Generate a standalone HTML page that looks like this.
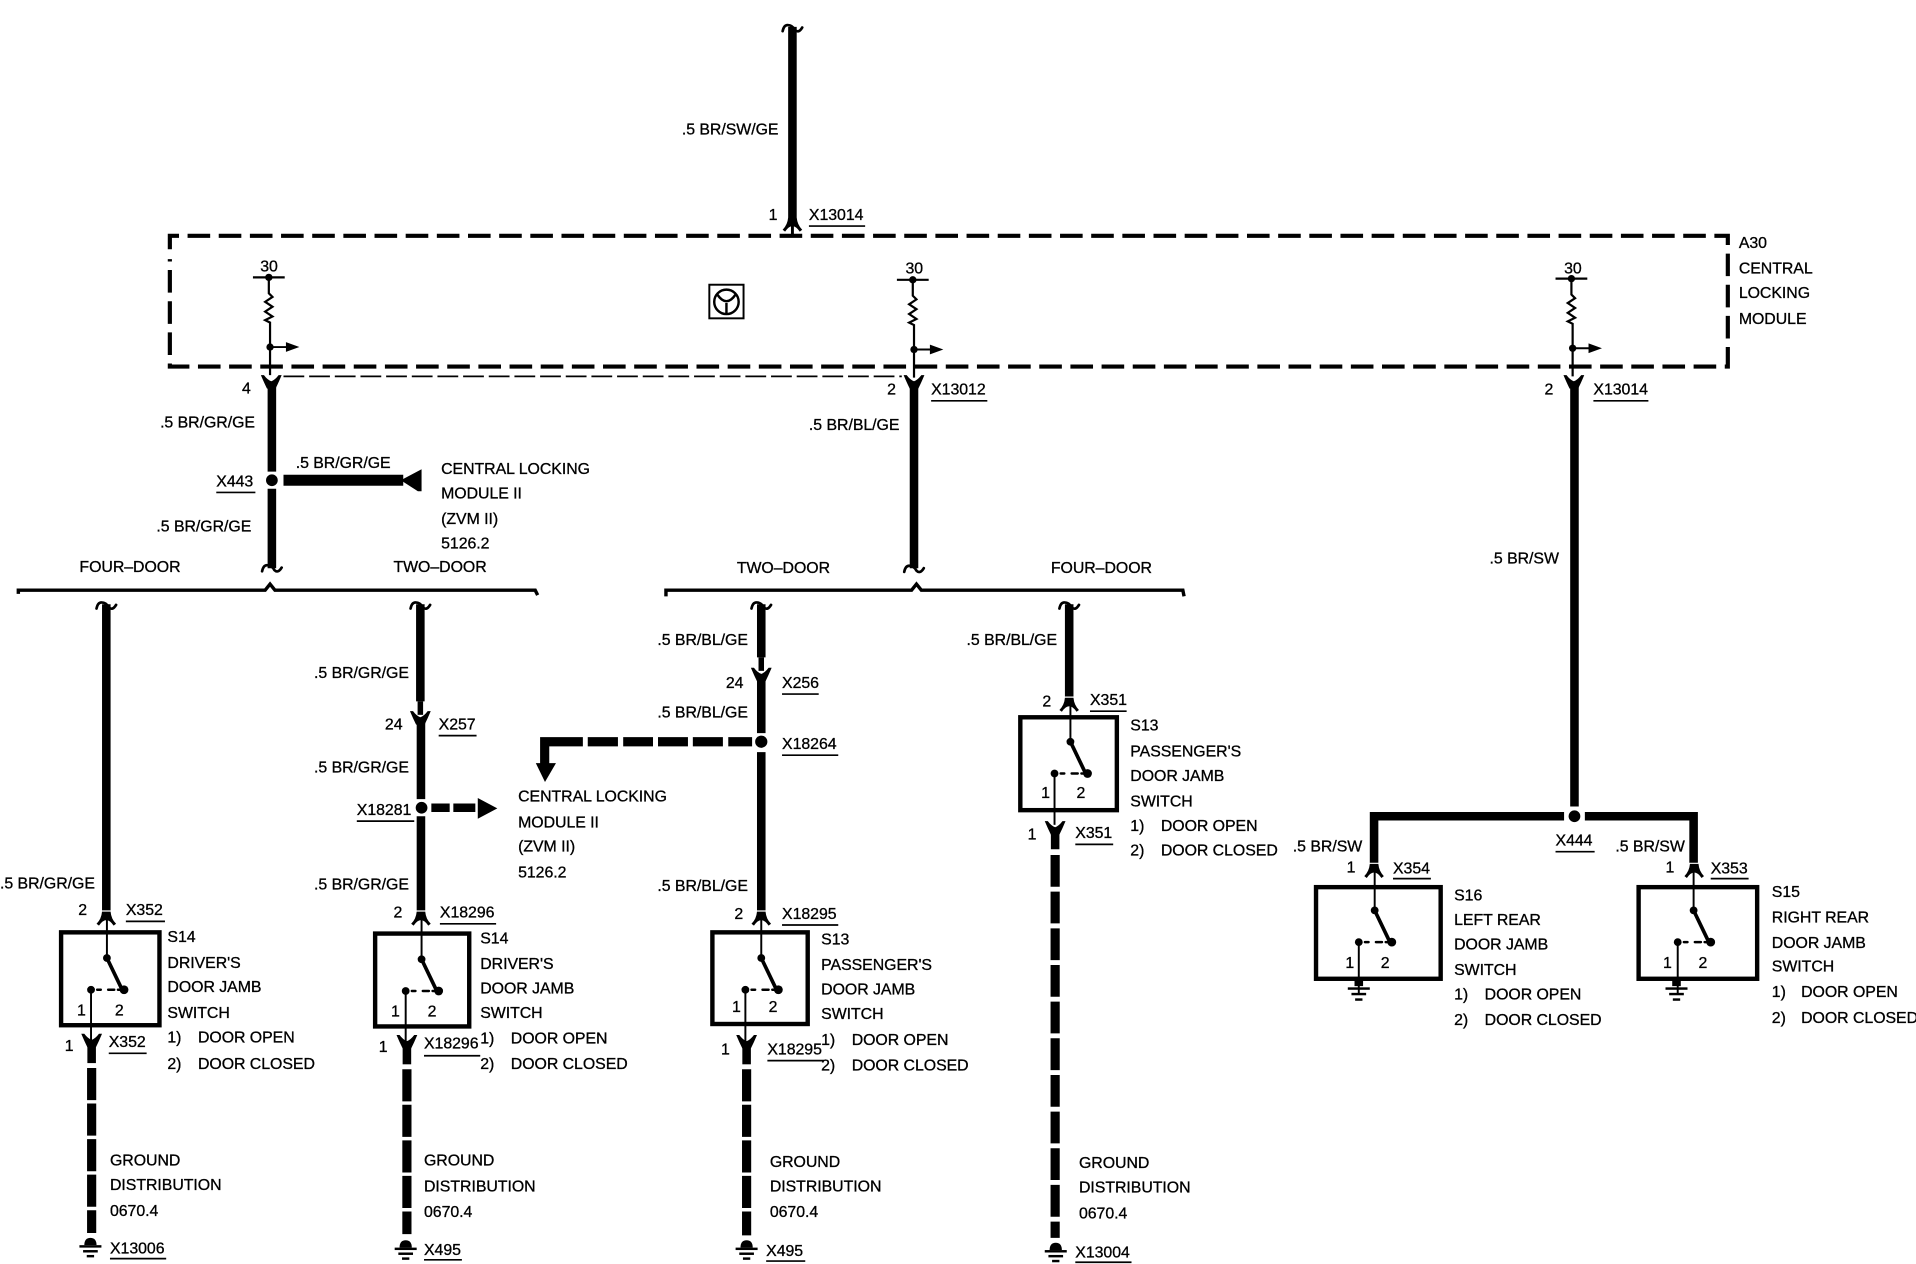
<!DOCTYPE html>
<html lang="en"><head><meta charset="utf-8"><title>Central Locking Wiring Diagram</title>
<style>
html,body{margin:0;padding:0;background:#fff;width:1916px;height:1264px;overflow:hidden}
svg{display:block}
text{font-family:"Liberation Sans",sans-serif;font-size:13px;letter-spacing:-.03px;fill:#000;stroke:#000;stroke-width:.25px}
.w{stroke:#000;fill:none;stroke-width:7}
.p{stroke:#000;fill:none;stroke-width:4.5}
.t{stroke:#000;fill:none;stroke-width:1.6}
.u{stroke:#000;fill:none;stroke-width:1.4}
.d{stroke:#000;fill:none;stroke-width:7.500;stroke-dasharray:26.3 2.8}
.b{stroke:#000;fill:none;stroke-width:3.6}
.h{stroke:#000;fill:none;stroke-width:3;stroke-linecap:round;stroke-linejoin:round}
</style></head><body>
<svg xmlns="http://www.w3.org/2000/svg" width="1916" height="1264" viewBox="0 0 1568 1034.4">
<defs>
<g id="top"><path class="h" d="M-8 5Q-7 0 -4 0Q0 0 2 4Q5 7 8 2" style="stroke-width:2.2"/></g>
<g id="arch"><path d="M-8 5Q-4 1 -3.500 -5H3.500Q4 1 8 5L6 6.500Q3 2 0 2Q-3 2 -6 6.500Z" fill="#000"/></g>
<g id="yy"><path d="M-8.500 -6H-6Q-3 -2 0 -1Q3 -2 6 -6H8.500Q6 0 3.500 5H-3.500Q-6 0 -8.500 -6Z" fill="#000"/></g>
<g id="fuse">
<path class="t" d="M-13 4H13" style="stroke-width:1.8"/>
<circle cx="0" cy="4" r="3"/>
<path class="t" d="M0 4V17L3 20L-3 24L3 28L-3 32L3 36L-3 39L1 41V84" style="stroke-width:1.8"/>
<circle cx="1" cy="61" r="3"/>
<path class="t" d="M1 61H15"/><path d="M14 57L25 61L14 65Z"/>
</g>
<g id="sw">
<circle cx="0" cy="22" r="3.200"/><circle cx="14" cy="48" r="3.600"/><circle cx="-13" cy="48" r="3.200"/>
<path class="t" d="M0 -11V22"/>
<path class="h" d="M0 22L12 47"/>
<path class="h" d="M-8 48H-5M1 48H6M9 48H13" style="stroke-width:2"/>
<path class="t" d="M-13 48V90"/>
</g>
<g id="gnd">
<path d="M-5 0Q-5 -6 0 -6Q5 -6 5 0H-5Z"/>
<rect x="-9" y="0" width="18" height="2"/><rect x="-6" y="4" width="12" height="2"/><rect x="-3" y="8" width="6" height="2"/>
</g>
<g id="gndr">
<rect x="-3.500" y="0" width="7" height="5"/>
<rect x="-9" y="6" width="18" height="2"/><rect x="-6" y="10.500" width="12" height="2"/><rect x="-3" y="15" width="6" height="2"/>
</g>
</defs>
<rect width="1568" height="1034.4" fill="#fff"/>

<!-- module box -->
<path d="M139 204V193H1414V300H139V212" fill="none" stroke="#000" stroke-width="3.400" stroke-dasharray="18.500 7"/>
<path d="M232 308H738" fill="none" stroke="#000" stroke-width="1.400" stroke-dasharray="17 4"/>

<!-- top wire -->
<use href="#top" x="648.500" y="20.500"/><path class="w" d="M648.500 22V178"/><use href="#arch" x="648.500" y="183"/><path class="t" d="M648.500 183V193" style="stroke-width:2.400"/>

<use href="#fuse" x="220" y="223"/><use href="#fuse" x="747" y="225"/><use href="#fuse" x="1286" y="224"/>
<use href="#yy" x="222" y="313"/><use href="#yy" x="748" y="313"/><use href="#yy" x="1288" y="313"/>

<!-- steering -->
<rect x="580.500" y="233" width="28" height="27.500" fill="none" stroke="#000" stroke-width="1.600"/>
<circle cx="594.500" cy="247" r="10" fill="none" stroke="#000" stroke-width="2"/>
<path d="M587 241Q594.500 252 602 241M594.500 248V257" fill="none" stroke="#000" stroke-width="2"/>

<!-- left col -->
<path class="w" d="M222.500 316V386M222.500 400V465"/><use href="#top" x="222.500" y="462.500"/>
<circle cx="222.500" cy="393" r="4.800"/>
<rect x="232" y="388.500" width="98" height="9"/>
<path d="M345 384V402H342L328 393Z"/>

<!-- brackets -->
<path class="b" style="stroke-width:2.800" d="M15 486V483H217L221 478L225 483H438L440 487"/>
<path class="b" style="stroke-width:2.800" d="M545 488V483H746L750 478L754 483H968L969 488"/>

<!-- mid col -->
<path class="w" d="M748 316V465"/><use href="#top" x="748" y="463"/>

<!-- right col -->
<path class="w" d="M1288.500 316V660"/>
<circle cx="1288.500" cy="668" r="4.800"/>
<path class="w" d="M1280 668H1124.500V706M1297 668H1386V706"/>
<use href="#arch" x="1124.500" y="712"/><use href="#arch" x="1386.500" y="712"/>
<rect x="1077" y="726" width="102" height="75" class="b"/>
<rect x="1341" y="726" width="97" height="75" class="b"/>
<use href="#sw" x="1125" y="723"/><use href="#sw" x="1386" y="723"/>
<use href="#gndr" x="1112" y="802"/><use href="#gndr" x="1372" y="802"/>

<!-- A -->
<use href="#top" x="87" y="493"/><path class="w" d="M87 494.500V745"/><use href="#arch" x="87" y="751"/>
<rect x="50" y="763" width="80.500" height="76" class="b"/>
<use href="#sw" x="87.500" y="762"/>
<use href="#yy" x="75" y="852"/>
<path class="w" d="M75 855V870"/><path class="d" d="M75 874V1009"/>
<use href="#gnd" x="74" y="1019"/>

<!-- B -->
<use href="#top" x="344" y="493"/><path class="w" d="M344 494.500V574"/><path class="p" d="M344 574V585"/><use href="#yy" x="344" y="588"/>
<path class="w" d="M344.500 590V654M344.500 668V745"/>
<circle cx="345" cy="661" r="4.800"/>
<path d="M353 657.500H368V664.500H353ZM371 657.500H389V664.500H371Z"/><path d="M391 653V670L407 661.500Z"/>
<use href="#arch" x="344.500" y="751"/>
<rect x="307" y="764" width="77" height="76" class="b"/>
<use href="#sw" x="345" y="763"/>
<use href="#yy" x="333" y="853"/>
<path class="w" d="M333 856V871"/><path class="d" d="M333 875V1010"/>
<use href="#gnd" x="332" y="1021"/>

<!-- C -->
<use href="#top" x="623" y="493"/><path class="w" d="M623 494.500V538"/><path class="p" d="M623 538V549"/><use href="#yy" x="623" y="552.500"/>
<path class="w" d="M623 555V600M623 615.500V745"/>
<circle cx="623" cy="607" r="5"/>
<path d="M615.500 603.200V610.800H596V603.200ZM591.600 603.200V610.800H567V603.200ZM563 603.200V610.800H538.500V603.200ZM534.400 603.200V610.800H510V603.200ZM505.700 603.200V610.800H481V603.200ZM477 603.200V610.800H449.500V626H442V603.200Z"/>
<path d="M438.500 624.500H455L446 640Z"/>
<use href="#arch" x="623" y="751"/>
<rect x="583" y="763" width="78" height="75" class="b"/>
<use href="#sw" x="623" y="762"/>
<use href="#yy" x="611" y="853"/>
<path class="w" d="M611 856V871"/><path class="d" d="M611 875V1011"/>
<use href="#gnd" x="611" y="1021"/>

<!-- D -->
<use href="#top" x="875" y="493"/><path class="w" d="M875 494.500V570"/><use href="#arch" x="875" y="576"/>
<rect x="835" y="587" width="79" height="76" class="b"/>
<use href="#sw" x="876" y="585"/>
<use href="#yy" x="863.500" y="678"/>
<path class="w" d="M863.500 681V695"/><path class="d" style="stroke-dasharray:26 4" d="M863.500 699.700V1013"/>
<use href="#gnd" x="864" y="1023"/>

<!-- underlines -->
<path class="u" d="M662 185H708M762 328H808M1304 328H1349M177 403H209M359 602H390M292 672H339M360 756H406M103 754H135M89 862H120M90 1030H136M347 864H393M347 1031H378M640 568H670M640 618H686M640 757H686M628 868H674M627 1032H659M892 582H922M880 691H911M880 1033H926M1140 719H1171M1273 697H1305M1400 719H1431"/>

<!-- labels -->
<text x="558" y="110">.5 BR/SW/GE</text>
<text x="629" y="180">1</text><text x="662" y="180">X13014</text>
<text x="1423" y="203">A30</text><text x="1423" y="224">CENTRAL</text><text x="1423" y="244">LOCKING</text><text x="1423" y="265">MODULE</text>
<text x="213" y="222">30</text><text x="741" y="224">30</text><text x="1280" y="224">30</text>
<text x="198" y="322">4</text><text x="726" y="323">2</text><text x="762" y="323">X13012</text><text x="1264" y="323">2</text><text x="1304" y="323">X13014</text>
<text x="131" y="350">.5 BR/GR/GE</text><text x="177" y="398">X443</text><text x="242" y="383">.5 BR/GR/GE</text>
<text x="361" y="388">CENTRAL LOCKING</text><text x="361" y="408">MODULE II</text><text x="361" y="429">(ZVM II)</text><text x="361" y="449">5126.2</text>
<text x="128" y="435">.5 BR/GR/GE</text><text x="65" y="468">FOUR–DOOR</text><text x="322" y="468">TWO–DOOR</text>
<text x="662" y="352">.5 BR/BL/GE</text><text x="603" y="469">TWO–DOOR</text><text x="860" y="469">FOUR–DOOR</text>
<text x="1219" y="461">.5 BR/SW</text>

<text x="0" y="727">.5 BR/GR/GE</text><text x="64" y="749">2</text><text x="103" y="749">X352</text>
<text x="137" y="771">S14</text><text x="137" y="792">DRIVER'S</text><text x="137" y="812">DOOR JAMB</text><text x="137" y="833">SWITCH</text>
<text x="137" y="853">1)</text><text x="162" y="853">DOOR OPEN</text><text x="137" y="875">2)</text><text x="162" y="875">DOOR CLOSED</text>
<text x="63" y="831">1</text><text x="94" y="831">2</text>
<text x="53" y="860">1</text><text x="89" y="857">X352</text>
<text x="90" y="954">GROUND</text><text x="90" y="974">DISTRIBUTION</text><text x="90" y="995">0670.4</text><text x="90" y="1026">X13006</text>

<text x="257" y="555">.5 BR/GR/GE</text><text x="315" y="597">24</text><text x="359" y="597">X257</text><text x="257" y="632">.5 BR/GR/GE</text>
<text x="292" y="667">X18281</text><text x="257" y="728">.5 BR/GR/GE</text><text x="322" y="751">2</text><text x="360" y="751">X18296</text>
<text x="393" y="772">S14</text><text x="393" y="793">DRIVER'S</text><text x="393" y="813">DOOR JAMB</text><text x="393" y="833">SWITCH</text>
<text x="393" y="854">1)</text><text x="418" y="854">DOOR OPEN</text><text x="393" y="875">2)</text><text x="418" y="875">DOOR CLOSED</text>
<text x="320" y="832">1</text><text x="350" y="832">2</text>
<text x="310" y="861">1</text><text x="347" y="858">X18296</text>
<text x="347" y="954">GROUND</text><text x="347" y="975">DISTRIBUTION</text><text x="347" y="996">0670.4</text><text x="347" y="1027">X495</text>

<text x="538" y="528">.5 BR/BL/GE</text><text x="594" y="563">24</text><text x="640" y="563">X256</text><text x="538" y="587">.5 BR/BL/GE</text><text x="640" y="613">X18264</text>
<text x="424" y="656">CENTRAL LOCKING</text><text x="424" y="677">MODULE II</text><text x="424" y="697">(ZVM II)</text><text x="424" y="718">5126.2</text>
<text x="538" y="729">.5 BR/BL/GE</text><text x="601" y="752">2</text><text x="640" y="752">X18295</text>
<text x="672" y="773">S13</text><text x="672" y="794">PASSENGER'S</text><text x="672" y="814">DOOR JAMB</text><text x="672" y="834">SWITCH</text>
<text x="672" y="855">1)</text><text x="697" y="855">DOOR OPEN</text><text x="672" y="876">2)</text><text x="697" y="876">DOOR CLOSED</text>
<text x="599" y="828">1</text><text x="629" y="828">2</text>
<text x="590" y="863">1</text><text x="628" y="863">X18295</text>
<text x="630" y="955">GROUND</text><text x="630" y="975">DISTRIBUTION</text><text x="630" y="996">0670.4</text><text x="627" y="1028">X495</text>

<text x="791" y="528">.5 BR/BL/GE</text><text x="853" y="578">2</text><text x="892" y="577">X351</text>
<text x="925" y="598">S13</text><text x="925" y="619">PASSENGER'S</text><text x="925" y="639">DOOR JAMB</text><text x="925" y="660">SWITCH</text>
<text x="925" y="680">1)</text><text x="950" y="680">DOOR OPEN</text><text x="925" y="700">2)</text><text x="950" y="700">DOOR CLOSED</text>
<text x="852" y="653">1</text><text x="881" y="653">2</text>
<text x="841" y="687">1</text><text x="880" y="686">X351</text>
<text x="883" y="956">GROUND</text><text x="883" y="976">DISTRIBUTION</text><text x="883" y="997">0670.4</text><text x="880" y="1029">X13004</text>

<text x="1058" y="697">.5 BR/SW</text><text x="1102" y="714">1</text><text x="1140" y="715">X354</text>
<text x="1190" y="737">S16</text><text x="1190" y="757">LEFT REAR</text><text x="1190" y="777">DOOR JAMB</text><text x="1190" y="798">SWITCH</text>
<text x="1190" y="818">1)</text><text x="1215" y="818">DOOR OPEN</text><text x="1190" y="839">2)</text><text x="1215" y="839">DOOR CLOSED</text>
<text x="1101" y="792">1</text><text x="1130" y="792">2</text>
<text x="1273" y="692">X444</text><text x="1322" y="697">.5 BR/SW</text><text x="1363" y="714">1</text><text x="1400" y="715">X353</text>
<text x="1450" y="734">S15</text><text x="1450" y="755">RIGHT REAR</text><text x="1450" y="776">DOOR JAMB</text><text x="1450" y="795">SWITCH</text>
<text x="1450" y="816">1)</text><text x="1474" y="816">DOOR OPEN</text><text x="1450" y="837">2)</text><text x="1474" y="837">DOOR CLOSED</text>
<text x="1361" y="792">1</text><text x="1390" y="792">2</text>
</svg>
</body></html>
